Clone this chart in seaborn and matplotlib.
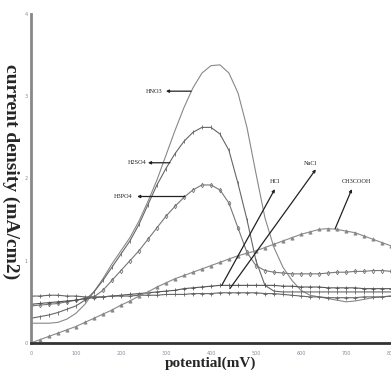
"""Polarisation curves of the sample in different acid / salt media."""

import matplotlib

matplotlib.use("Agg")
import matplotlib.pyplot as plt
import pandas as pd
import seaborn as sns

# potential (mV), 20 mV steps
potential = list(range(0, 801, 20))

hno3 = [0.24, 0.24, 0.24, 0.25, 0.29, 0.36, 0.47, 0.62, 0.78, 0.96, 1.12,
        1.28, 1.48, 1.72, 1.98, 2.28, 2.58, 2.86, 3.10, 3.28, 3.37, 3.38,
        3.28, 3.04, 2.62, 2.06, 1.52, 1.16, 0.92, 0.76, 0.64, 0.58, 0.56,
        0.54, 0.52, 0.50, 0.51, 0.53, 0.55, 0.56, 0.57]
h2so4 = [0.30, 0.32, 0.34, 0.37, 0.41, 0.45, 0.52, 0.62, 0.76, 0.92, 1.08,
         1.24, 1.44, 1.68, 1.92, 2.12, 2.30, 2.45, 2.56, 2.62, 2.62, 2.54,
         2.34, 1.94, 1.50, 1.00, 0.70, 0.63, 0.62, 0.62, 0.62, 0.62, 0.62,
         0.62, 0.62, 0.62, 0.62, 0.62, 0.62, 0.62, 0.62]
h3po4 = [0.45, 0.46, 0.47, 0.48, 0.50, 0.52, 0.54, 0.56, 0.64, 0.76, 0.88,
         1.00, 1.12, 1.26, 1.40, 1.54, 1.66, 1.77, 1.86, 1.92, 1.92, 1.86,
         1.70, 1.40, 1.10, 0.94, 0.88, 0.86, 0.85, 0.84, 0.84, 0.84, 0.84,
         0.85, 0.86, 0.86, 0.87, 0.87, 0.88, 0.88, 0.87]
hcl = [0.47, 0.48, 0.49, 0.50, 0.51, 0.52, 0.54, 0.55, 0.56, 0.57, 0.58,
       0.59, 0.60, 0.61, 0.62, 0.63, 0.64, 0.66, 0.67, 0.68, 0.69, 0.70,
       0.70, 0.70, 0.70, 0.70, 0.70, 0.70, 0.69, 0.69, 0.68, 0.68, 0.68,
       0.67, 0.67, 0.67, 0.67, 0.66, 0.66, 0.66, 0.66]
nacl = [0.57, 0.57, 0.58, 0.58, 0.57, 0.57, 0.56, 0.56, 0.56, 0.57, 0.57,
        0.57, 0.58, 0.58, 0.58, 0.59, 0.59, 0.59, 0.60, 0.60, 0.60, 0.61,
        0.61, 0.61, 0.61, 0.61, 0.60, 0.60, 0.59, 0.58, 0.57, 0.56, 0.56,
        0.55, 0.55, 0.55, 0.55, 0.56, 0.56, 0.56, 0.57]
ch3cooh = [0.00, 0.04, 0.08, 0.12, 0.16, 0.20, 0.25, 0.30, 0.35, 0.40, 0.46,
           0.51, 0.57, 0.62, 0.68, 0.73, 0.78, 0.82, 0.86, 0.90, 0.94, 0.98,
           1.02, 1.06, 1.09, 1.12, 1.16, 1.20, 1.24, 1.28, 1.32, 1.35, 1.38,
           1.39, 1.38, 1.36, 1.34, 1.30, 1.26, 1.22, 1.18]

media = ["HNO3", "H2SO4", "H3PO4", "HCl", "NaCl", "CH3COOH"]
curves = [hno3, h2so4, h3po4, hcl, nacl, ch3cooh]

df = pd.concat(
    [pd.DataFrame({"potential": potential, "density": c, "medium": m})
     for m, c in zip(media, curves)],
    ignore_index=True,
)

markers = {"HNO3": None, "H2SO4": "|", "H3PO4": "d", "HCl": "+",
           "NaCl": "+", "CH3COOH": "^"}
colors = {"HNO3": "#888888", "H2SO4": "#666666", "H3PO4": "#777777",
          "HCl": "#555555", "NaCl": "#666666", "CH3COOH": "#888888"}

sns.set_style("white")
fig = plt.figure(figsize=(3.91, 3.74), dpi=100)
ax = fig.add_axes([0.079, 0.083, 0.921, 0.88])

for m in media:
    sub = df[df["medium"] == m]
    sns.lineplot(
        data=sub, x="potential", y="density", color=colors[m],
        marker=markers[m], linewidth=0.8, markersize=2.3,
        markeredgewidth=0.6,
        markerfacecolor="none" if m == "H3PO4" else colors[m],
        markeredgecolor=colors[m], ax=ax,
    )

ax.set_xlim(0, 800)
ax.set_ylim(0, 4)
ax.set_xticks(range(0, 801, 100))
ax.set_yticks([0, 1, 2, 3, 4])
ax.tick_params(labelsize=3.5, labelcolor="#7f8f9f", length=1.5, width=0.5,
               direction="out")
ax.tick_params(axis="y", pad=1)
ax.tick_params(axis="x", pad=4)

for s in ("top", "right"):
    ax.spines[s].set_visible(False)
ax.spines["left"].set_color("#888888")
ax.spines["left"].set_linewidth(2)
ax.spines["bottom"].set_color("#333333")
ax.spines["bottom"].set_linewidth(2)

serif = ["Liberation Serif", "DejaVu Serif"]
ax.set_xlabel("potential(mV)", family=serif, fontweight="bold", fontsize=11,
              labelpad=1)
ax.set_ylabel("current density (mA/cm2)", family=serif, fontweight="bold",
              fontsize=14, rotation=270, va="center")
ax.yaxis.set_label_coords(-0.055, 0.52)

# labels and arrows: (label pos, arrow head, arrow tail)
notes = [
    ("HNO3", (273, 3.06), (300, 3.06), (356, 3.06)),
    ("H2SO4", (236, 2.19), (260, 2.19), (309, 2.19)),
    ("H3PO4", (204, 1.78), (236, 1.78), (342, 1.78)),
    ("HCl", (542, 1.96), (542, 1.87), (424, 0.70)),
    ("NaCl", (622, 2.18), (633, 2.11), (442, 0.66)),
    ("CH3COOH", (724, 1.96), (713, 1.87), (676, 1.39)),
]
for label, pos, head, tail in notes:
    ax.text(*pos, label, family=serif, fontsize=4.5, ha="center",
            va="center", color="#222222")
    ax.annotate("", xy=head, xytext=tail,
                arrowprops=dict(arrowstyle="-|>", color="#222222", lw=0.9,
                                mutation_scale=4, shrinkA=0, shrinkB=0))

fig.savefig("out.png", dpi=100)
